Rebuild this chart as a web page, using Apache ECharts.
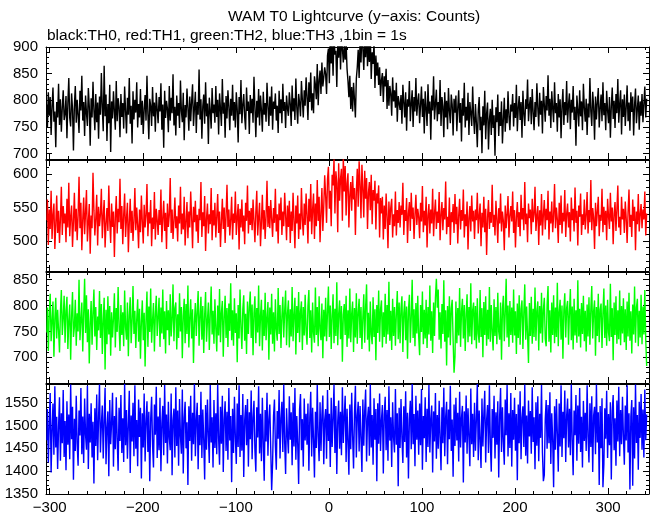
<!DOCTYPE html>
<html>
<head>
<meta charset="utf-8">
<script src="https://cdn.jsdelivr.net/npm/echarts@6/dist/echarts.min.js"></script>
<style>
html,body{margin:0;padding:0;background:#fff;}
#chart{width:652px;height:515px;}
</style>
</head>
<body>
<div id="chart"></div>
<script>
// ---- time axis (1 bin = 1 s) ----
const binStart = -303;   // centre of first bin, seconds from T0
const binWidth = 1;
const xTickLabels = [-300, -200, -100, 0, 100, 200, 300];

// ---- y tick labels per panel ----
const yTicksTH0 = [700, 750, 800, 850, 900];
const yTicksTH1 = [500, 550, 600];
const yTicksTH2 = [700, 750, 800, 850];
const yTicksTH3 = [1350, 1400, 1450, 1500, 1550];

// ---- counts per 1 s bin ----
const th0 = [
792,748,815,771,806,735,788,824,760,779,712,797,768,831,754,802,741,786,819,763,
774,808,729,795,842,767,751,813,784,706,790,827,758,801,772,739,818,781,846,762,
797,733,809,776,752,823,789,715,804,768,835,781,744,812,759,796,728,807,773,851,
786,742,865,770,811,724,793,757,829,703,798,766,817,779,745,836,761,804,788,731,
812,769,795,747,826,781,738,805,773,842,756,790,719,817,764,801,777,834,749,793,
768,821,754,799,737,784,810,762,846,775,727,803,789,752,825,770,796,741,814,783,
757,806,779,832,745,792,711,818,767,799,784,740,827,762,805,776,849,753,788,734,
809,771,795,748,837,780,759,814,725,791,768,822,786,743,807,761,798,830,752,785,
816,739,797,773,858,764,802,728,789,811,756,834,770,794,718,805,781,747,823,776,
792,758,827,769,801,736,813,784,752,840,775,796,730,808,766,819,789,744,803,771,
829,762,797,749,815,783,721,806,774,838,757,791,812,769,745,824,780,798,737,810,
776,803,758,844,787,731,799,768,821,753,809,782,741,816,773,795,760,833,789,752,
807,771,826,745,798,784,813,762,790,739,818,776,802,757,831,780,797,748,809,785,
771,815,793,752,828,779,804,763,841,787,756,812,795,770,836,801,768,819,790,843,
806,763,834,797,852,781,813,776,845,829,802,868,791,837,856,812,871,826,843,862,
849,812,884,897,832,918,869,905,846,926,886,893,825,912,880,934,858,915,898,871,
903,876,908,859,837,806,846,784,825,779,833,801,768,841,862,895,842,912,871,927,
899,857,917,881,936,864,904,872,921,840,890,868,909,823,884,846,871,829,862,808,
838,851,797,845,826,859,784,838,790,827,812,771,843,798,819,786,833,760,808,795,
782,810,756,829,797,768,815,743,802,788,836,761,794,819,750,806,779,842,771,798,
813,757,791,826,769,803,738,817,784,752,830,775,798,726,809,781,845,764,793,820,
761,797,774,838,752,806,789,731,815,768,799,746,823,780,757,811,792,734,803,777,
809,742,786,819,758,795,723,804,771,833,749,788,762,814,735,797,776,752,826,768,
737,793,758,712,781,806,744,769,701,789,753,818,727,775,796,708,763,784,735,801,
748,772,696,787,759,811,733,778,752,798,719,764,805,741,783,757,817,770,744,792,
779,812,751,795,767,829,742,786,808,763,797,730,818,775,752,802,784,839,761,790,
806,755,821,778,744,797,769,832,786,751,814,773,799,738,825,792,760,808,781,847,
771,803,748,817,785,759,834,776,795,741,812,768,802,729,789,821,754,797,772,836,
758,792,813,746,801,777,827,763,788,715,809,782,751,819,770,798,744,831,786,760,
803,735,794,768,842,779,752,816,788,726,807,764,797,823,749,785,811,761,834,772,
795,744,818,781,757,806,730,789,824,765,799,748,812,776,840,758,793,819,736,802,
769,811,752,787,828,761,796,743,815,778,807,734,791,822,757,784,809,745,798,771,
812,759,794,826,768,803
];
const th1 = [
531,562,494,547,518,575,503,539,556,488,524,568,512,545,497,533,581,509,552,526,
541,498,563,520,587,507,536,553,491,529,572,514,548,501,538,596,519,557,486,532,
565,510,543,576,499,527,555,481,538,519,602,546,508,534,569,493,551,522,540,578,
504,537,561,490,526,549,515,583,530,497,556,521,544,476,535,567,511,548,528,593,
518,552,495,539,571,506,534,557,483,527,563,512,545,500,531,579,516,550,524,489,
547,513,568,529,496,554,520,538,585,507,543,526,561,492,535,518,573,502,548,531,
509,546,524,577,498,533,560,515,542,488,556,521,539,594,512,547,503,530,565,519,
537,499,553,526,581,510,541,517,566,493,529,558,504,544,520,574,535,489,551,528,
560,514,539,497,548,531,588,506,543,522,567,485,534,556,511,540,525,579,501,546,
523,557,505,536,570,512,544,491,529,563,518,550,497,539,584,521,547,508,532,566,
502,541,527,574,509,536,555,487,548,520,562,514,538,495,557,530,583,511,545,524,
549,516,562,530,498,543,575,508,535,557,492,528,569,517,546,503,538,590,521,552,
519,561,533,506,549,527,578,514,540,496,556,531,565,509,544,522,572,538,501,553,
521,560,497,544,515,572,530,489,553,526,568,503,541,517,579,532,508,556,524,571,
538,496,563,529,585,510,547,571,503,556,522,591,530,566,498,541,579,515,552,598,
568,527,592,611,548,575,522,599,583,622,541,604,587,513,616,560,593,608,530,625,
574,612,538,586,601,520,569,588,545,597,562,579,509,573,608,551,619,584,534,614,
578,535,605,563,594,518,572,588,546,599,525,576,560,590,517,571,556,583,505,564,
541,566,502,553,518,571,537,489,559,524,550,563,505,540,522,574,508,546,527,558,
520,553,539,587,509,546,530,564,497,541,558,515,572,533,550,503,539,569,524,548,
536,504,557,529,582,513,545,523,566,490,538,555,511,547,526,578,507,541,562,518,
544,527,573,501,539,558,516,549,532,589,510,536,521,565,494,543,528,555,512,570,
525,551,496,538,563,517,546,530,577,505,540,522,559,487,534,552,514,568,529,545,
503,547,531,572,511,538,556,492,542,520,566,513,548,479,535,561,518,543,527,584,
521,539,508,560,533,497,549,526,571,514,544,530,486,553,519,540,567,505,537,552,
529,574,512,546,490,535,558,521,543,507,569,532,549,516,588,525,541,498,556,534,
547,510,563,528,540,581,515,537,552,494,546,523,570,508,539,561,517,548,531,575,
502,544,526,559,513,538,585,519,550,532,497,557,524,568,511,542,529,576,506,540,
556,520,543,499,565,531,548,514,580,527,545,493,553,536,571,509,540,524,562,517,
538,573,511,546,528,591,516,549,535,488,557,522,544,566,507,539,530,578,513,551,
524,545,501,563,537,518,572,529,550,495,541,558,515,547,583,520,536,509,566,532,
548,512,559,534,497,543,577,521,539,506,562,530,551,486,544,525,570,514,540,555,
519,547,532,574,508,541
];
const th2 = [
748,796,712,781,823,731,769,808,701,774,815,736,792,752,709,788,830,743,776,819,
728,790,817,716,771,802,695,779,826,739,758,811,722,785,750,850,733,772,806,711,
784,852,747,820,729,793,688,764,809,724,786,831,740,797,714,779,752,828,737,803,
706,771,815,676,792,725,818,744,799,703,787,738,776,824,719,795,749,836,761,712,
801,743,787,721,829,758,734,806,702,781,816,727,769,838,745,790,718,773,812,730,
794,697,768,810,733,786,682,775,827,720,798,749,833,728,771,805,711,783,819,741,
778,815,720,796,746,831,735,789,707,809,752,791,723,822,740,772,841,731,795,806,
715,783,737,824,750,797,698,780,813,727,803,745,839,719,776,812,736,793,689,768,
805,741,788,828,722,779,817,734,799,708,781,826,730,771,806,714,783,837,744,790,
726,812,756,711,800,742,832,729,786,809,701,778,819,737,795,720,804,751,843,733,
791,722,814,747,785,690,801,736,831,758,716,793,820,732,784,706,808,745,796,827,
737,802,704,786,818,727,795,748,839,721,780,811,713,792,741,825,733,776,807,695,
796,744,823,726,787,711,812,754,732,834,745,801,718,779,817,738,790,829,723,784,
810,719,793,740,836,731,782,815,705,799,747,826,729,788,808,714,797,742,821,751,
724,799,830,737,791,709,806,747,728,835,743,797,721,818,755,733,804,698,792,740,
815,731,787,837,739,800,716,781,822,727,794,741,845,723,783,810,735,799,691,782,
803,743,819,720,791,736,833,729,784,808,710,795,738,824,726,787,813,737,797,716,
777,822,728,798,841,734,786,711,808,744,725,816,739,793,694,801,747,829,730,792,
810,719,787,739,823,726,801,744,846,732,790,714,813,741,797,722,784,828,735,806,
727,794,818,710,785,809,733,798,697,790,821,728,776,850,737,793,721,805,746,819,
740,704,801,749,827,725,792,736,811,718,797,744,839,732,789,708,806,741,815,852,
796,831,734,787,717,803,745,849,730,791,684,799,738,818,723,794,811,733,670,701,
808,727,795,742,834,720,788,813,736,801,712,784,822,729,797,740,843,725,791,806,
733,799,717,814,746,728,830,739,795,700,807,743,818,722,792,735,836,730,801,748,
713,812,741,797,725,825,750,734,806,695,793,819,731,785,852,738,800,720,809,743,
796,728,831,742,789,706,804,737,820,724,793,810,716,787,841,734,798,743,689,805,
741,817,726,794,739,835,732,790,808,713,799,746,825,728,792,815,735,721,802,838,
730,791,709,806,743,820,727,796,739,844,721,788,811,734,800,697,792,824,738,795,
809,724,787,832,733,798,715,813,742,791,728,849,740,794,719,805,745,819,731,790,
711,802,740,816,724,793,838,736,789,810,703,797,741,823,729,792,804,718,786,833,
737,800,722,811,748,731,842,739,795,694,806,743,818,726,791,735,829,723,799,746,
814,729,793,714,808,740,825,732,789,707,802,744,837,728,796,813,721,790,738,821,
725,798,744,830,733,683
];
const th3 = [
1468,1536,1419,1502,1571,1397,1490,1548,1436,1586,1452,1519,1405,1497,1562,1423,1527,1461,1578,1431,
1510,1402,1553,1458,1524,1426,1590,1470,1541,1381,1515,1444,1565,1460,1412,1533,1478,1582,1437,1520,
1418,1559,1480,1447,1587,1405,1526,1463,1549,1430,1508,1373,1538,1455,1568,1424,1517,1590,1441,1503,
1544,1428,1512,1583,1415,1494,1531,1389,1556,1459,1507,1572,1410,1521,1448,1562,1471,1401,1539,1466,
1567,1440,1516,1420,1591,1457,1534,1427,1501,1576,1396,1522,1465,1550,1433,1588,1449,1512,1411,1557,
1475,1539,1384,1527,1452,1570,1421,1509,1553,1442,1530,1378,1514,1563,1458,1408,1546,1480,1585,1429,
1520,1446,1561,1400,1505,1543,1435,1589,1462,1524,1417,1552,1473,1446,1570,1391,1511,1537,1430,1584,
1455,1533,1412,1558,1476,1438,1579,1395,1516,1552,1450,1507,1370,1542,1466,1565,1423,1528,1459,1591,
1433,1512,1550,1404,1523,1457,1574,1429,1535,1469,1382,1545,1447,1557,1478,1418,1589,1463,1518,1408,
1556,1451,1527,1437,1590,1472,1414,1541,1460,1565,1398,1513,1553,1444,1530,1425,1582,1467,1521,1376,
1537,1440,1563,1473,1416,1548,1453,1588,1431,1523,1445,1569,1387,1511,1545,1457,1558,1410,1529,1470,
1577,1426,1517,1554,1447,1399,1540,1474,1586,1439,1526,1422,1561,1462,1379,1534,1465,1572,1434,1513,
1546,1450,1358,1417,1520,1557,1456,1403,1532,1471,1578,1428,1516,1552,1442,1590,1463,1394,1538,1478,
1439,1564,1469,1529,1413,1550,1454,1582,1425,1521,1460,1372,1535,1569,1446,1514,1410,1559,1467,1526,
1458,1548,1401,1517,1574,1432,1539,1470,1386,1530,1451,1589,1476,1422,1551,1444,1522,1566,1415,1512,
1536,1427,1578,1466,1526,1409,1561,1453,1516,1590,1440,1543,1394,1509,1555,1449,1530,1435,1584,1462,
1519,1565,1420,1537,1465,1392,1546,1448,1572,1477,1406,1527,1587,1430,1521,1552,1443,1543,1471,1398,
1557,1456,1532,1579,1421,1514,1541,1434,1590,1452,1523,1414,1560,1469,1536,1378,1549,1460,1570,1444,
1512,1545,1395,1524,1563,1446,1534,1423,1586,1467,1518,1409,1551,1474,1441,1580,1458,1527,1367,1539,
1451,1558,1473,1418,1542,1464,1575,1430,1528,1384,1513,1554,1448,1591,1459,1525,1411,1565,1469,1533,
1436,1548,1457,1580,1403,1521,1472,1562,1420,1537,1453,1589,1441,1515,1544,1397,1531,1465,1571,1427,
1523,1449,1554,1474,1402,1540,1461,1583,1433,1519,1552,1415,1535,1470,1587,1444,1513,1388,1546,1455,
1561,1467,1528,1421,1574,1452,1517,1543,1375,1531,1463,1566,1438,1538,1476,1411,1581,1459,1526,1431,
1550,1445,1515,1591,1424,1533,1469,1407,1559,1454,1524,1576,1419,1512,1545,1440,1588,1462,1399,1536,
1473,1565,1428,1529,1458,1553,1386,1520,1582,1442,1540,1465,1414,1557,1479,1589,1432,1527,1451,1571,
1410,1534,1469,1561,1445,1525,1380,1546,1461,1575,1426,1517,1542,1453,1590,1434,1522,1417,1555,1476,
1532,1438,1584,1464,1518,1404,1551,1456,1564,1422,1526,1473,1589,1440,1378,1392,1513,1556,1449,1545,
1461,1573,1416,1527,1470,1365,1542,1447,1558,1482,1399,1548,1454,1588,1431,1530,1472,1577,1420,1521,
1559,1452,1537,1435,1590,1468,1391,1533,1479,1567,1423,1544,1460,1582,1442,1519,1408,1554,1466,1528,
1444,1588,1475,1419,1549,1453,1564,1398,1522,1541,1437,1590,1463,1529,1370,1543,1450,1560,1365,1415,
1538,1471,1576,1429,1525,1457,1551,1382,1532,1567,1446,1516,1412,1555,1465,1585,1433,1534,1459,1563,
1477,1414,1544,1467,1588,1441,1527,1360,1519,1556,1368,1540,1428,1590,1462,1523,1403,1552,1473,1569,
1447,1535,1430,1579,1468,1524
];

const panelNames = ['TH0', 'TH1', 'TH2', 'TH3'];
const panelColors = ['#000000', '#ff0000', '#00ff00', '#0000ff'];

// ---- layout ----
const X_MIN = -304, X_MAX = 344;
const panels = [
  { data: th0, ticks: yTicksTH0, min: 690,  max: 900,  top: 47,  height: 112 },
  { data: th1, ticks: yTicksTH1, min: 455,  max: 621,  top: 160, height: 111 },
  { data: th2, ticks: yTicksTH2, min: 650,  max: 865,  top: 272, height: 111 },
  { data: th3, ticks: yTicksTH3, min: 1350, max: 1591, top: 384, height: 111 }
];
const FONT = 'Liberation Sans, Arial, Helvetica, sans-serif';
const fmt = v => String(v).replace('-', '\u2212');

function steps(a, b, s) { const r = []; for (let v = a; v <= b + 1e-9; v += s) r.push(v); return r; }
const xMinorTicks = steps(-300, 340, 20);

const grid = [], xAxis = [], yAxis = [], series = [];
panels.forEach((p, g) => {
  grid.push({ left: 46, width: 603, top: p.top, height: p.height, containLabel: false });
  const lineOn = { show: true, onZero: false, lineStyle: { color: '#000', width: 1 } };
  const lineOff = { show: false, onZero: false };
  ['bottom', 'top'].forEach(pos => {
    xAxis.push({
      gridIndex: g, type: 'value', min: X_MIN, max: X_MAX, position: pos,
      axisLine: lineOn, splitLine: { show: false },
      axisTick: { show: true, inside: true, length: 6, customValues: xTickLabels, lineStyle: { color: '#000', width: 1 } },
      axisLabel: { show: g === 3 && pos === 'bottom', customValues: xTickLabels, margin: 6, formatter: fmt,
        fontSize: 15, fontFamily: FONT, color: '#000' }
    });
    xAxis.push({
      gridIndex: g, type: 'value', min: X_MIN, max: X_MAX, position: pos,
      axisLine: lineOff, splitLine: { show: false },
      axisTick: { show: true, inside: true, length: 3, customValues: xMinorTicks, lineStyle: { color: '#000', width: 1 } },
      axisLabel: { show: false }
    });
  });
  const yMinor = steps(Math.ceil(p.min / 10) * 10, p.max, 10);
  ['left', 'right'].forEach(pos => {
    yAxis.push({
      gridIndex: g, type: 'value', min: p.min, max: p.max, position: pos,
      axisLine: lineOn, splitLine: { show: false },
      axisTick: { show: true, inside: true, length: 6, customValues: p.ticks, lineStyle: { color: '#000', width: 1 } },
      axisLabel: { show: pos === 'left', customValues: p.ticks, margin: 8, formatter: fmt,
        fontSize: 15, fontFamily: FONT, color: '#000' }
    });
    yAxis.push({
      gridIndex: g, type: 'value', min: p.min, max: p.max, position: pos,
      axisLine: lineOff, splitLine: { show: false },
      axisTick: { show: true, inside: true, length: 3, customValues: yMinor, lineStyle: { color: '#000', width: 1 } },
      axisLabel: { show: false }
    });
  });
  series.push({
    name: panelNames[g], type: 'line', xAxisIndex: g * 4, yAxisIndex: g * 4,
    data: p.data.map((v, i) => [binStart + i * binWidth, v]),
    step: 'middle', symbol: 'none', showSymbol: false, clip: true,
    lineStyle: { color: panelColors[g], width: 1.4 }, itemStyle: { color: panelColors[g] },
    emphasis: { disabled: true }
  });
});

const chart = echarts.init(document.getElementById('chart'), null, { renderer: 'canvas' });
chart.setOption({
  animation: false,
  backgroundColor: '#ffffff',
  grid, xAxis, yAxis, series,
  graphic: [
    { type: 'text', left: 228, top: 9, style: { text: 'WAM T0 Lightcurve (y\u2212axis: Counts)', font: '15.5px ' + FONT, fill: '#000' } },
    { type: 'text', left: 47, top: 28, style: { text: 'black:TH0, red:TH1, green:TH2, blue:TH3 ,1bin = 1s', font: '15.5px ' + FONT, fill: '#000' } }
  ]
});
</script>
</body>
</html>
